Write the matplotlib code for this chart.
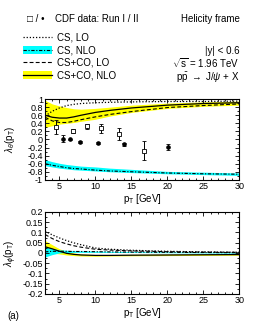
import matplotlib
matplotlib.use('Agg')
import matplotlib.pyplot as plt
from matplotlib.lines import Line2D
from matplotlib.patches import Patch
from matplotlib.ticker import MultipleLocator, FuncFormatter

plt.rcParams['font.family'] = ['Liberation Sans', 'DejaVu Sans']
plt.rcParams['font.size'] = 6.5
plt.rcParams['mathtext.fontset'] = 'custom'
plt.rcParams['mathtext.rm'] = 'Liberation Sans'
plt.rcParams['mathtext.it'] = 'Liberation Sans:italic'

# --- theory curves ---
pt = [3, 4, 5, 6, 7, 8, 10, 12, 15, 20, 25, 30]

# lambda_theta
th_cs_lo = [0.58, 0.70, 0.78, 0.84, 0.87, 0.89, 0.91, 0.92, 0.93, 0.94, 0.94, 0.95]
th_cs_nlo = [-0.60, -0.64, -0.67, -0.70, -0.72, -0.73, -0.76, -0.78, -0.80, -0.83, -0.85, -0.86]
th_cs_nlo_lo = [-0.65, -0.68, -0.71, -0.73, -0.75, -0.76, -0.78, -0.80, -0.82, -0.85, -0.87, -0.89]
th_cs_nlo_hi = [-0.50, -0.55, -0.59, -0.62, -0.64, -0.66, -0.68, -0.71, -0.74, -0.79, -0.81, -0.83]
th_co_lo = [0.55, 0.46, 0.42, 0.42, 0.45, 0.49, 0.56, 0.62, 0.69, 0.79, 0.84, 0.88]
th_co_nlo = [0.60, 0.55, 0.53, 0.53, 0.56, 0.60, 0.67, 0.72, 0.78, 0.85, 0.89, 0.91]
th_co_nlo_lo = [0.30, 0.34, 0.38, 0.40, 0.42, 0.45, 0.50, 0.58, 0.67, 0.77, 0.82, 0.85]
th_co_nlo_hi = [0.97, 0.88, 0.83, 0.79, 0.76, 0.75, 0.77, 0.80, 0.85, 0.90, 0.93, 0.95]

# lambda_phi
ph_cs_lo = [0.106, 0.088, 0.073, 0.060, 0.049, 0.040, 0.024, 0.018, 0.013, 0.008, 0.005, 0.003]
ph_cs_nlo = [0.005, 0.008, 0.008, 0.008, 0.007, 0.007, 0.006, 0.005, 0.004, 0.003, 0.002, 0.001]
ph_cs_nlo_lo = [-0.020, -0.008, 0.000, 0.002, 0.003, 0.003, 0.003, 0.003, 0.002, 0.001, 0.000, -0.001]
ph_cs_nlo_hi = [0.030, 0.022, 0.015, 0.013, 0.011, 0.010, 0.009, 0.008, 0.006, 0.005, 0.004, 0.003]
ph_co_lo = [0.090, 0.070, 0.055, 0.044, 0.035, 0.028, 0.018, 0.014, 0.010, 0.006, 0.004, 0.003]
ph_co_nlo = [0.030, 0.020, 0.008, -0.002, -0.007, -0.010, -0.012, -0.012, -0.011, -0.010, -0.009, -0.008]
ph_co_nlo_lo = [0.000, 0.000, -0.005, -0.010, -0.013, -0.015, -0.016, -0.015, -0.014, -0.013, -0.012, -0.011]
ph_co_nlo_hi = [0.060, 0.040, 0.020, 0.008, 0.000, -0.005, -0.008, -0.008, -0.007, -0.006, -0.005, -0.005]

# --- CDF data ---
run1_pt = [4.5, 6.9, 8.8, 10.8, 13.2, 16.8]
run1_val = [0.31, 0.21, 0.33, 0.28, 0.13, -0.28]
run1_err = [0.18, 0.05, 0.06, 0.11, 0.15, 0.23]

run2_pt = [5.5, 6.5, 7.9, 10.3, 13.9, 20.1]
run2_val = [0.02, 0.0, -0.07, -0.08, -0.12, -0.18]
run2_err = [0.09, 0.02, 0.02, 0.02, 0.04, 0.08]

xticks = [5, 10, 15, 20, 25, 30]

fig = plt.figure(figsize=(2.62, 3.27), dpi=100)
ax1 = fig.add_axes([0.172, 0.450, 0.742, 0.247])
ax2 = fig.add_axes([0.172, 0.101, 0.742, 0.251])

# top panel
ax1.fill_between(pt, th_co_nlo_lo, th_co_nlo_hi, color='#ffff00', lw=0)
ax1.fill_between(pt, th_cs_nlo_lo, th_cs_nlo_hi, color='#00ffff', lw=0)
ax1.plot(pt, th_cs_lo, color='black', ls=(0, (1, 1.5)), lw=0.9)
ax1.plot(pt, th_cs_nlo, color='black', ls=(0, (3, 1.5, 1, 1.5)), lw=0.8)
ax1.plot(pt, th_co_lo, color='black', ls=(0, (3.5, 2)), lw=0.8)
ax1.plot(pt, th_co_nlo, color='black', ls='-', lw=0.9)
ax1.errorbar(run1_pt, run1_val, yerr=run1_err, fmt='s', ms=3.2, mfc='white', mec='black',
             mew=0.6, ecolor='black', elinewidth=0.7, capsize=1.3, capthick=0.6)
ax1.errorbar(run2_pt, run2_val, yerr=run2_err, fmt='o', ms=2.3, mfc='black', mec='black',
             ecolor='black', elinewidth=0.7, capsize=1.3, capthick=0.6)
ax1.set_xlim(3, 30)
ax1.set_ylim(-1, 1)
ax1.yaxis.set_major_locator(MultipleLocator(0.2))
ax1.yaxis.set_minor_locator(MultipleLocator(0.1))
ax1.set_xlabel(r'p$_\mathrm{T}$ [GeV]', labelpad=1, fontsize=7)

# bottom panel
ax2.fill_between(pt, ph_co_nlo_lo, ph_co_nlo_hi, color='#ffff00', lw=0)
ax2.fill_between(pt, ph_cs_nlo_lo, ph_cs_nlo_hi, color='#00ffff', lw=0)
ax2.plot(pt, ph_cs_lo, color='black', ls=(0, (1, 1.5)), lw=0.9)
ax2.plot(pt, ph_cs_nlo, color='black', ls=(0, (3, 1.5, 1, 1.5)), lw=0.8)
ax2.plot(pt, ph_co_lo, color='black', ls=(0, (3.5, 2)), lw=0.8)
ax2.plot(pt, ph_co_nlo, color='black', ls='-', lw=0.9)
ax2.set_xlim(3, 30)
ax2.set_ylim(-0.2, 0.2)
ax2.yaxis.set_major_locator(MultipleLocator(0.05))
ax2.yaxis.set_minor_locator(MultipleLocator(0.025))
ax2.set_xlabel(r'p$_\mathrm{T}$ [GeV]', labelpad=1, fontsize=7)

fmt = FuncFormatter(lambda v, p: '%g' % round(v, 3))
for ax in (ax1, ax2):
    ax.set_xticks(xticks)
    ax.xaxis.set_minor_locator(MultipleLocator(1))
    ax.yaxis.set_major_formatter(fmt)
    ax.tick_params(which='both', direction='in', top=True, right=True, pad=1.5,
                   labelsize=6.5, width=0.6)
    ax.tick_params(which='major', length=3)
    ax.tick_params(which='minor', length=1.5)
    for s in ax.spines.values():
        s.set_linewidth(0.8)

# y labels placed at fixed position left of the tick labels
fig.text(0.04, 0.450 + 0.247 / 2, r'$\lambda_\theta$(p$_\mathrm{T}$)', rotation=90,
         fontsize=7, va='center', ha='center')
fig.text(0.04, 0.101 + 0.251 / 2, r'$\lambda_\phi$(p$_\mathrm{T}$)', rotation=90,
         fontsize=7, va='center', ha='center')

# legend / header
fig.text(0.135, 1 - 19 / 327, '\u25a1 / \u2022', fontsize=7, va='center', ha='center')
fig.text(0.21, 1 - 19 / 327, 'CDF data: Run I / II', fontsize=7, va='center')
fig.text(0.915, 1 - 19 / 327, 'Helicity frame', fontsize=7, va='center', ha='right')

handles = [
    Line2D([], [], color='black', ls=(0, (1, 1.5)), lw=0.9),
    (Patch(color='#00ffff', lw=0), Line2D([], [], color='black', ls=(0, (3, 1.5, 1, 1.5)), lw=0.8)),
    Line2D([], [], color='black', ls=(0, (3.5, 2)), lw=0.8),
    (Patch(color='#ffff00', lw=0), Line2D([], [], color='black', lw=0.9)),
]
labels = ['CS, LO', 'CS, NLO', 'CS+CO, LO', 'CS+CO, NLO']
fig.legend(handles, labels, loc='upper left', bbox_to_anchor=(0.088, 1 - 33 / 327),
           frameon=False, fontsize=7, handlelength=3.0, handleheight=0.9,
           handletextpad=0.5, labelspacing=0.25, borderpad=0, borderaxespad=0)

fig.text(0.915, 1 - 51 / 327, '|y| < 0.6', fontsize=7, va='center', ha='right')
fig.text(0.915, 1 - 63 / 327, r'$\sqrt{\mathrm{s}}$ = 1.96 TeV', fontsize=7, va='center', ha='right')
fig.text(0.915, 1 - 77 / 327, r'p$\bar{\mathrm{p}}$ $\rightarrow$ J/$\psi$ + X', fontsize=7,
         va='center', ha='right')
fig.text(0.03, 1 - 316 / 327, '(a)', fontsize=7, va='center')

fig.savefig('out.png', dpi=100)
